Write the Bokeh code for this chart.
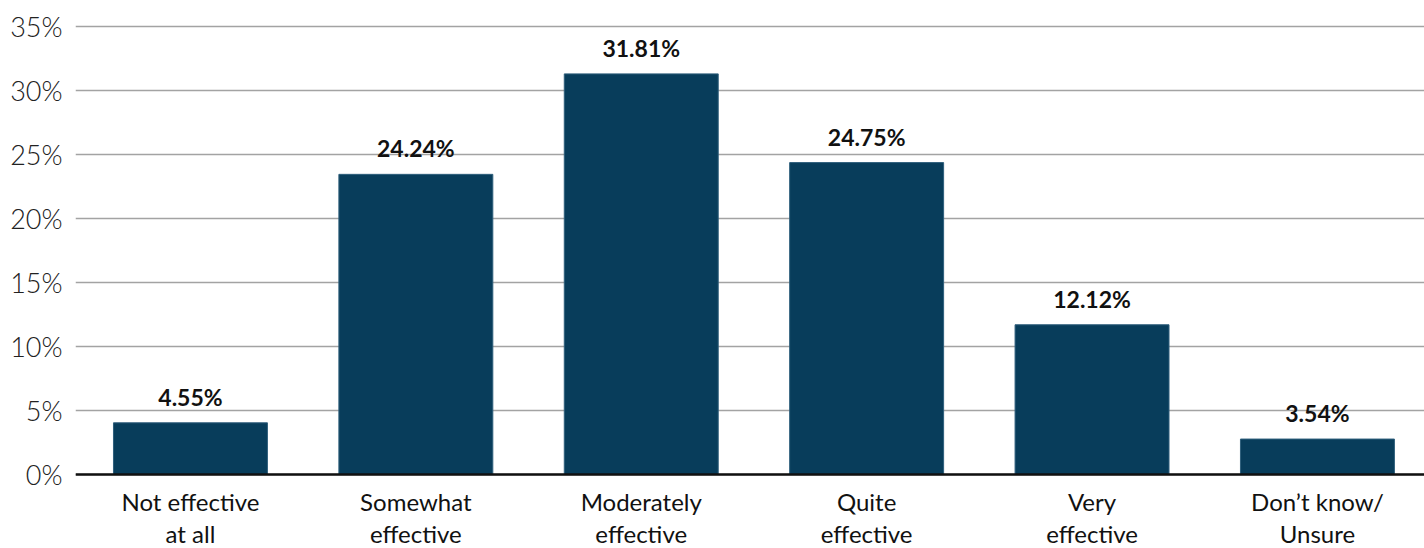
from bokeh.plotting import figure
from bokeh.models import Range1d, FixedTicker, Span, ColumnDataSource
from bokeh.core.properties import value
from bokeh.embed import file_html
from bokeh.resources import INLINE

# ---- data ----
categories = ["Not effective\nat all", "Somewhat\neffective", "Moderately\neffective",
              "Quite\neffective", "Very\neffective", "Don\u2019t know/\nUnsure"]
label_values = [4.55, 24.24, 31.81, 24.75, 12.12, 3.54]      # printed values (%)
bar_heights = [4.04, 23.45, 31.3, 24.37, 11.7, 2.77]         # drawn bar heights as read (%)
y_ticks = [0, 5, 10, 15, 20, 25, 30, 35]

centers = [i + 0.5 for i in range(len(categories))]
src = ColumnDataSource(dict(
    x=centers,
    top=bar_heights,
    lab=[f"{v:.2f}%" for v in label_values],
    cat=categories,
    base=[0] * len(categories),
))

# frame spans to the bottom of the page so category labels can sit below zero
p = figure(width=1424, height=548, output_backend="svg", toolbar_location=None,
           x_range=Range1d(-0.01, 5.975), y_range=Range1d(-5.78, 35.47),
           min_border_left=75, min_border_right=0, min_border_top=20, min_border_bottom=0)
p.outline_line_color = None
p.background_fill_color = "white"
p.border_fill_color = "white"

p.vbar(x="x", top="top", bottom=0, width=0.683, source=src,
       fill_color="#083D5B", line_color="#2f5f7c", line_width=1)

p.text(x="x", y="top", text="lab", source=src, y_offset=-12,
       text_align="center", text_baseline="bottom",
       text_font=value("Lato"), text_font_style="bold", text_font_size="23px",
       text_color="#111111")

p.text(x="x", y="base", text="cat", source=src, y_offset=12,
       text_align="center", text_baseline="top", text_line_height=1.12,
       text_font=value("Lato"), text_font_size="24px", text_color="#111111")

p.add_layout(Span(location=0, dimension="width", line_color="#111111", line_width=2.5))

# grid
p.xgrid.grid_line_color = None
p.ygrid.ticker = FixedTicker(ticks=y_ticks)
p.ygrid.grid_line_color = "#a3a3a3"
p.ygrid.grid_line_width = 1.5

# y axis
p.yaxis.ticker = FixedTicker(ticks=y_ticks)
p.yaxis.major_label_overrides = {t: f"{t}%" for t in y_ticks}
p.yaxis.axis_line_color = None
p.yaxis.major_tick_line_color = None
p.yaxis.minor_tick_line_color = None
p.yaxis.major_label_standoff = 7
p.yaxis.major_label_text_font = "Lato Light"
p.yaxis.major_label_text_font_size = "27px"
p.yaxis.major_label_text_color = "#222222"

p.xaxis.visible = False

open("out.html", "w").write(file_html(p, INLINE))
